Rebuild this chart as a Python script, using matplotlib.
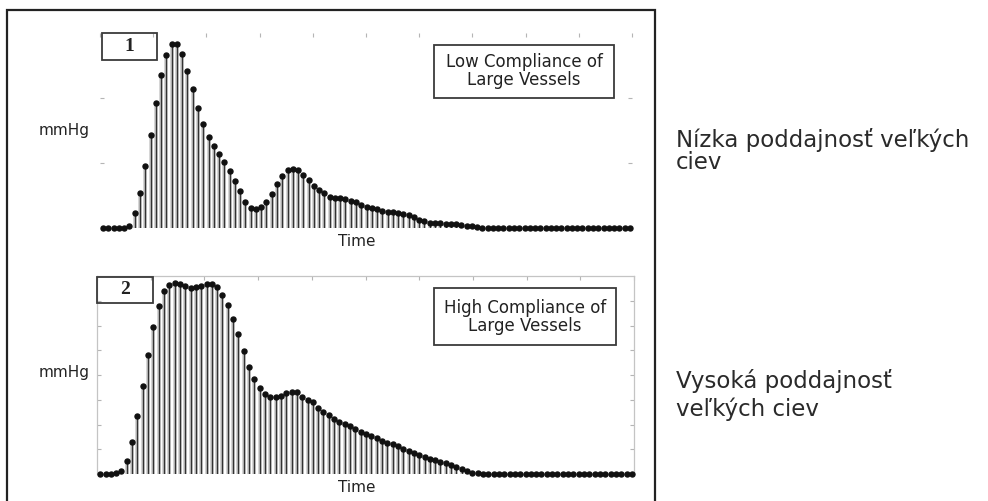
import matplotlib.pyplot as plt
from matplotlib.patches import Rectangle
import numpy as np

# pressure samples (arbitrary mmHg units), one per time step
low_compliance = [
    0, 0, 0, 0, 0, 1.5, 11.8, 26.7, 47.7, 71.3,
    96.4, 117.7, 133.1, 141.5, 141.5, 133.8, 121.0, 106.7, 92.1, 79.8,
    69.8, 63.1, 56.9, 51.0, 44.1, 36.4, 28.2, 20.2, 15.2, 14.6,
    15.9, 20.2, 26.2, 33.8, 39.7, 44.4, 45.1, 44.6, 40.8, 36.9,
    32.5, 29.2, 26.7, 24.1, 23.3, 22.8, 22.1, 21.0, 19.8, 17.7,
    16.4, 15.6, 14.4, 13.3, 12.5, 12.1, 11.3, 10.6, 10.0, 8.1,
    6.5, 5.4, 4.2, 3.6, 3.5, 3.2, 3.1, 2.7, 2.2, 1.7,
    1.2, 0.6,
] + [0.0] * 29

high_compliance = [
    0, 0, 0, 0.6, 2.2, 10.5, 26.1, 47.1, 71.3, 96.1,
    118.5, 136.0, 147.8, 152.7, 154.1, 153.5, 151.9, 150.0, 150.8, 151.9,
    153.5, 153.5, 150.8, 144.6, 136.5, 125.2, 112.8, 99.6, 86.2, 76.5,
    69.2, 64.4, 62.4, 61.9, 63.2, 65.2, 66.2, 66.2, 62.6, 59.9,
    57.8, 53.2, 50.5, 47.3, 44.6, 42.4, 40.4, 38.8, 36.1, 34.2,
    32.3, 31.0, 28.8, 26.9, 25.3, 23.9, 22.6, 20.6, 18.7, 17.1,
    15.4, 13.8, 12.2, 11.1, 9.8, 8.5, 6.9, 5.3, 3.7, 2.4,
    1.1, 0.6, 0.4,
] + [0.0] * 28

panel_tags = ["1", "2"]
panel_titles = ["Low Compliance of\nLarge Vessels", "High Compliance of\nLarge Vessels"]
side_notes = [["Nízka poddajnosť veľkých", "ciev"], ["Vysoká poddajnosť", "veľkých ciev"]]

W, H = 988, 501
fig = plt.figure(figsize=(W / 100, H / 100), dpi=100)


def fx(x):
    return x / W


def fy(y):
    return 1 - y / H


def stem_panel(ax, vals, ymax, yticks):
    x = np.arange(len(vals))
    v = np.asarray(vals)
    ax.vlines(x, 0, v, color="#cdcdcd", lw=2.6)
    ax.vlines(x, 0, v, color="#333333", lw=1.0)
    ax.plot(x, v, "o", ms=3.6, color="#111111", clip_on=False, zorder=3)
    ax.set_xlim(-0.6, 100.4)
    ax.set_ylim(0, ymax)
    ax.set_xticks(np.linspace(-0.6, 100.4, 11))
    ax.set_yticks(yticks)
    ax.set_xticklabels([])
    ax.set_yticklabels([])
    ax.tick_params(direction="in", length=3, color="#b5b5b5", width=0.8,
                   top=True, right=True, bottom=False)


# top panel: stiff vessels
ax1 = fig.add_axes([fx(100), fy(228), fx(532), 195 / H])
stem_panel(ax1, low_compliance, 150, [50, 100])
for s in ax1.spines.values():
    s.set_visible(False)

# bottom panel: compliant vessels
ax2 = fig.add_axes([fx(97), fy(474), fx(537), 198 / H])
stem_panel(ax2, high_compliance, 160, np.arange(20, 160, 20))
for s in ax2.spines.values():
    s.set_color("#c4c4c4")
    s.set_linewidth(0.9)
ax2.spines["bottom"].set_visible(False)

# numbered tags and description boxes
tag_boxes = [(102, 33, 55, 27), (97, 277, 56, 26)]
title_boxes = [(434, 45, 180, 53), (434, 288, 182, 57)]
title_y = [71, 317]
for tag, (bx, by, bw, bh), title, (tx, ty, tw, th), yy in zip(
        panel_tags, tag_boxes, panel_titles, title_boxes, title_y):
    fig.add_artist(Rectangle((fx(bx), fy(by + bh)), bw / W, bh / H,
                             transform=fig.transFigure, fill=False,
                             ec="#3a3a3a", lw=1.3))
    fig.text(fx(bx + bw / 2), fy(by + bh / 2), tag, ha="center", va="center",
             family="Liberation Serif", weight="bold", fontsize=14, color="#222222")
    fig.add_artist(Rectangle((fx(tx), fy(ty + th)), tw / W, th / H,
                             transform=fig.transFigure, fill=False,
                             ec="#3a3a3a", lw=1.3))
    fig.text(fx(tx + tw / 2), fy(yy), title, ha="center", va="center",
             fontsize=12, linespacing=0.95, color="#222222")

fig.text(fx(64), fy(130), "mmHg", ha="center", va="center", fontsize=11, color="#222222")
fig.text(fx(64), fy(373), "mmHg", ha="center", va="center", fontsize=11, color="#222222")
fig.text(fx(357), fy(242), "Time", ha="center", va="center", fontsize=11, color="#222222")
fig.text(fx(357), fy(487), "Time", ha="center", va="center", fontsize=11, color="#222222")

# frame around both plots
fig.add_artist(Rectangle((fx(7), fy(503)), 648 / W, 493 / H,
                         transform=fig.transFigure, fill=False, ec="#222222", lw=1.6))

# notes on the right
note_y = [[140, 163], [381, 409]]
for lines, ys in zip(side_notes, note_y):
    for line, yy in zip(lines, ys):
        fig.text(fx(676), fy(yy), line, ha="left", va="center",
                 fontsize=16.5, color="#2a2a2a")

fig.savefig("out.png", dpi=100)
